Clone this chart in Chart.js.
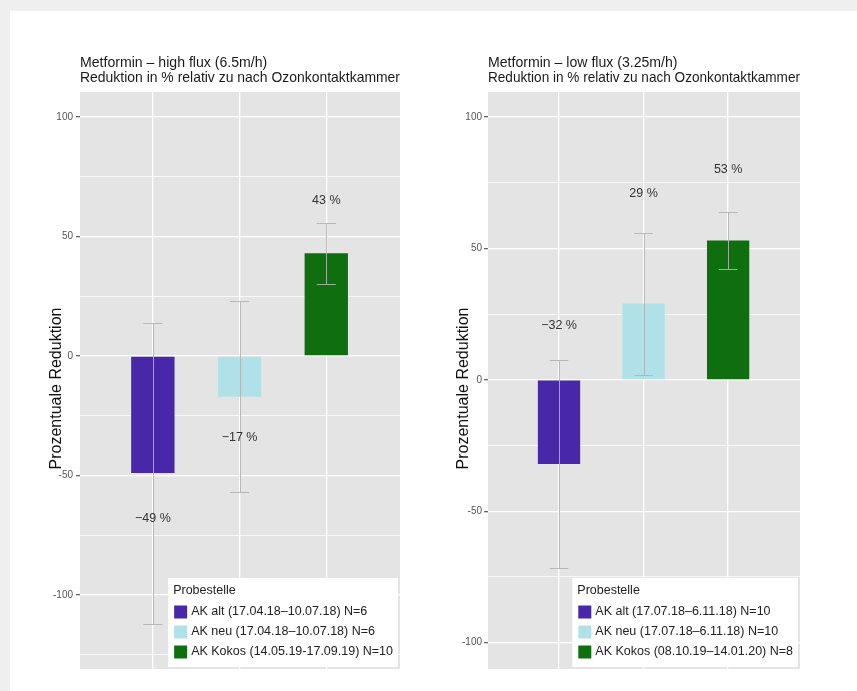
<!DOCTYPE html>
<html>
<head>
<meta charset="utf-8">
<script src="https://cdn.jsdelivr.net/npm/chart.js@4.4.0/dist/chart.umd.min.js"></script>
<style>
  html, body { margin: 0; padding: 0; width: 857px; height: 691px; overflow: hidden; background: #efefef; }
  #sheet { position: absolute; left: 10px; top: 11px; width: 847px; height: 680px; background: #ffffff; }
  #highFlux { position: absolute; left: 0; top: 0; width: 420px; height: 680px; }
  #lowFlux { position: absolute; left: 420px; top: 0; width: 427px; height: 680px; }
</style>
</head>
<body>
<div id="sheet">
  <canvas id="highFlux" width="420" height="680"></canvas>
  <canvas id="lowFlux" width="427" height="680"></canvas>
</div>
<script>
// Sampling points (one bar each)
const categories = ['AK alt', 'AK neu', 'AK Kokos'];

// High flux (6.5 m/h): mean reduction in %, standard deviation, value-label anchor
const highMean = [-49, -17, 43];
const highSd = [63, 40, 12.7];
const highLabelAt = [-68, -34, 65];
const highLegend = [
  'AK alt (17.04.18\u201310.07.18) N=6',
  'AK neu (17.04.18\u201310.07.18) N=6',
  'AK Kokos (14.05.19-17.09.19) N=10'
];

// Low flux (3.25 m/h)
const lowMean = [-32, 29, 53];
const lowSd = [39.5, 27, 11];
const lowLabelAt = [20.5, 71, 80];
const lowLegend = [
  'AK alt (17.07.18\u20136.11.18) N=10',
  'AK neu (17.07.18\u20136.11.18) N=10',
  'AK Kokos (08.10.19\u201314.01.20) N=8'
];

// Y axis: labelled ticks and the minor grid between them
const yTickLabels = [100, 50, 0, -50, -100];
const yMinorGrid = [75, 25, -25, -75, -125];
const yTitle = 'Prozentuale Reduktion';

const FONT = "'Liberation Sans', Arial, Helvetica, sans-serif";
const barColors = ['#4828a8', '#b0e0e8', '#0f6f0f'];
const panelBg = '#e4e4e4';
const errColor = 'rgba(178,178,178,0.9)';

Chart.defaults.font.family = FONT;

function fmtPct(v) {
  return (v < 0 ? '\u2212' : '') + Math.abs(v) + ' %';
}

function panelExtras(p) {
  return {
    id: 'panelExtras',
    beforeDraw(chart) {
      const { ctx, chartArea: a } = chart;
      ctx.save();
      ctx.fillStyle = panelBg;
      ctx.fillRect(a.left, a.top, a.width, a.height);
      ctx.restore();
    },
    afterDatasetsDraw(chart) {
      const { ctx } = chart;
      const xs = chart.scales.x, ys = chart.scales.y;
      ctx.save();
      // error bars: mean ± sd with short caps
      ctx.strokeStyle = errColor;
      ctx.lineWidth = 1;
      p.mean.forEach((m, i) => {
        const x = Math.round(xs.getPixelForValue(i)) + 0.5;
        const xl = xs.getPixelForValue(i - 0.11), xr = xs.getPixelForValue(i + 0.11);
        const yt = Math.round(ys.getPixelForValue(m + p.sd[i])) + 0.5;
        const yb = Math.round(ys.getPixelForValue(m - p.sd[i])) + 0.5;
        ctx.beginPath();
        ctx.moveTo(x, yt); ctx.lineTo(x, yb);
        ctx.moveTo(xl, yt); ctx.lineTo(xr, yt);
        ctx.moveTo(xl, yb); ctx.lineTo(xr, yb);
        ctx.stroke();
      });
      // value labels
      ctx.fillStyle = '#333333';
      ctx.font = '12.5px ' + FONT;
      ctx.textAlign = 'center';
      ctx.textBaseline = 'middle';
      p.mean.forEach((m, i) => {
        ctx.fillText(fmtPct(m), xs.getPixelForValue(i), ys.getPixelForValue(p.labelAt[i]));
      });
      ctx.restore();
    },
    afterDraw(chart) {
      const { ctx, chartArea: a } = chart;
      ctx.save();
      // y axis title
      ctx.font = '16px ' + FONT;
      ctx.fillStyle = '#111111';
      ctx.textAlign = 'center';
      ctx.textBaseline = 'middle';
      ctx.translate(p.yTitleX, (a.top + a.bottom) / 2 + 8);
      ctx.rotate(-Math.PI / 2);
      ctx.fillText(yTitle, 0, 0);
      ctx.restore();

      // legend box in the lower right corner of the panel
      ctx.save();
      ctx.font = '12.5px ' + FONT;
      const textW = Math.max(...p.legend.map(t => ctx.measureText(t).width));
      const w = 23 + textW + 5, h = 89;
      const left = a.right - 2 - w, top = a.bottom - 2 - h;
      ctx.fillStyle = '#ffffff';
      ctx.fillRect(left, top, w, h);
      ctx.textAlign = 'left';
      ctx.textBaseline = 'middle';
      ctx.fillStyle = '#222222';
      ctx.fillText('Probestelle', left + 5, top + 13);
      p.legend.forEach((t, i) => {
        const cy = top + 34 + i * 20;
        ctx.fillStyle = barColors[i];
        ctx.fillRect(left + 6, cy - 6.5, 13, 13);
        ctx.fillStyle = '#222222';
        ctx.fillText(t, left + 23, cy);
      });
      ctx.restore();
    }
  };
}

function buildPanel(canvasId, p) {
  const isMajor = v => yTickLabels.includes(v);
  const gridValues = yTickLabels.concat(yMinorGrid).filter(v => v >= p.yMin && v <= p.yMax).sort((a, b) => b - a);
  return new Chart(document.getElementById(canvasId), {
    type: 'bar',
    data: {
      datasets: [{
        label: 'Reduktion',
        data: p.mean.map((v, i) => ({ x: i, y: v })),
        backgroundColor: barColors,
        borderWidth: 0,
        barPercentage: 0.5,
        categoryPercentage: 1
      }]
    },
    options: {
      responsive: false,
      animation: false,
      events: [],
      layout: { padding: { left: 0, right: p.padRight, top: 0, bottom: 22 } },
      plugins: {
        legend: { display: false },
        tooltip: { enabled: false },
        title: {
          display: true,
          text: p.title,
          align: 'start',
          fullSize: false,
          color: '#1a1a1a',
          font: { size: 14.1, weight: 'normal', lineHeight: 15 / 14.1 },
          padding: { top: 44.5, bottom: 6.5 }
        }
      },
      scales: {
        x: {
          type: 'linear',
          offset: false,
          min: -0.84,
          max: 2.85,
          afterBuildTicks: s => { s.ticks = categories.map((_, i) => ({ value: i })); },
          ticks: { display: false },
          grid: { offset: false, color: '#ffffff', lineWidth: 1.3, drawTicks: false },
          border: { display: false }
        },
        y: {
          type: 'linear',
          min: p.yMin,
          max: p.yMax,
          afterBuildTicks: s => { s.ticks = gridValues.map(v => ({ value: v })); },
          afterFit: s => { s.width = p.axisWidth; },
          ticks: {
            callback: v => (isMajor(v) ? String(v) : ''),
            color: '#555555',
            font: { size: 10 },
            padding: p.tickPad
          },
          grid: {
            color: '#ffffff',
            lineWidth: c => (c.tick && !isMajor(c.tick.value) ? 0.7 : 1.3),
            tickLength: 4,
            tickColor: c => (c.tick && isMajor(c.tick.value) ? '#666666' : 'rgba(0,0,0,0)')
          },
          border: { display: false },
          title: { display: false }
        }
      }
    },
    plugins: [panelExtras(p)]
  });
}

buildPanel('highFlux', {
  title: ['Metformin \u2013 high flux (6.5m/h)', 'Reduktion in % relativ zu nach Ozonkontaktkammer'],
  mean: highMean, sd: highSd, labelAt: highLabelAt, legend: highLegend,
  yMin: -131, yMax: 110.5,
  axisWidth: 70, padRight: 30, tickPad: 3, yTitleX: 47
});

buildPanel('lowFlux', {
  title: ['Metformin \u2013 low flux (3.25m/h)', 'Reduktion in % relativ zu nach Ozonkontaktkammer'],
  mean: lowMean, sd: lowSd, labelAt: lowLabelAt, legend: lowLegend,
  yMin: -110, yMax: 109.5,
  axisWidth: 58, padRight: 57, tickPad: 2, yTitleX: 34
});
</script>
</body>
</html>
